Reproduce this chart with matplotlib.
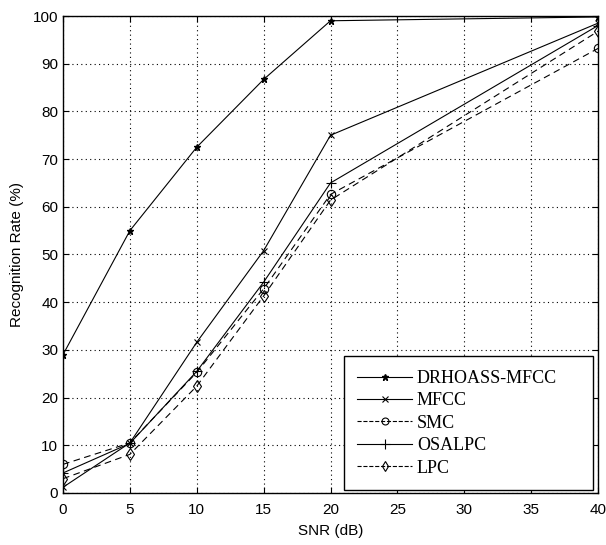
import matplotlib.pyplot as plt
from matplotlib.lines import Line2D

# SNR values (dB) and recognition rates (%)
snr = [0, 5, 10, 15, 20, 40]
drhoass_mfcc = [29, 55, 72.5, 86.7, 99.0, 99.8]
mfcc = [1.2, 10.5, 31.6, 50.8, 75.0, 98.5]
smc = [6.0, 10.5, 25.3, 42.8, 62.6, 93.2]
osalpc = [4.2, 10.4, 25.5, 44.2, 65.0, 98.0]
lpc = [3.0, 8.1, 22.4, 41.3, 61.4, 96.8]

xticks = [0, 5, 10, 15, 20, 25, 30, 35, 40]
yticks = [0, 10, 20, 30, 40, 50, 60, 70, 80, 90, 100]

plt.rcParams['font.family'] = ['Liberation Sans', 'DejaVu Sans']

fig = plt.figure(figsize=(6.06, 5.45), dpi=100)
ax = fig.add_axes([63 / 606, 1 - 493 / 545, (598 - 63) / 606, (493 - 16) / 545])

lw = 0.8
ax.plot(snr, drhoass_mfcc, color='k', lw=lw, ls='-', marker='*', ms=5)
ax.plot(snr, mfcc, color='k', lw=lw, ls='-', marker='x', ms=5, mew=0.8)
ax.plot(snr, smc, color='k', lw=lw, ls=(0, (6, 4)), marker='o', ms=6, mfc='none', mew=0.8)
ax.plot(snr, osalpc, color='k', lw=lw, ls='-', marker='+', ms=7, mew=0.8)
ax.plot(snr, lpc, color='k', lw=lw, ls=(0, (6, 4)), marker='d', ms=6, mfc='none', mew=0.8)

ax.set_xlim(0, 40)
ax.set_ylim(0, 100)
ax.set_xticks(xticks)
ax.set_yticks(yticks)
ax.tick_params(direction='in', top=True, right=True, labelsize=11, length=4)
ax.tick_params(axis='x', pad=7)
ax.grid(True, color='k', ls=(0, (1, 3)), lw=0.8)
for s in ax.spines.values():
    s.set_linewidth(1.0)

ax.set_xlabel('SNR (dB)', fontsize=11, labelpad=5)
ax.set_ylabel('Recognition Rate (%)', fontsize=11, labelpad=6)

handles = [
    Line2D([], [], color='k', lw=lw, ls='-', marker='*', ms=5),
    Line2D([], [], color='k', lw=lw, ls='-', marker='x', ms=5, mew=0.8),
    Line2D([], [], color='k', lw=lw, ls='--', marker='o', ms=5, mfc='none', mew=0.8),
    Line2D([], [], color='k', lw=lw, ls='-', marker='+', ms=7, mew=0.8),
    Line2D([], [], color='k', lw=lw, ls='--', marker='d', ms=5, mfc='none', mew=0.8),
]
labels = ['DRHOASS-MFCC', 'MFCC', 'SMC', 'OSALPC', 'LPC']
leg = ax.legend(handles, labels, loc='lower left', bbox_to_anchor=(0.525, 0.006, 0.466, 0.3),
                mode='expand',
                prop={'family': 'Liberation Serif', 'size': 13},
                frameon=True, fancybox=False, edgecolor='k', framealpha=1,
                handlelength=3.0, handletextpad=0.3, labelspacing=0.3,
                borderpad=0.75, borderaxespad=0)
leg.get_frame().set_linewidth(1.0)

fig.savefig('out.png', dpi=100)
